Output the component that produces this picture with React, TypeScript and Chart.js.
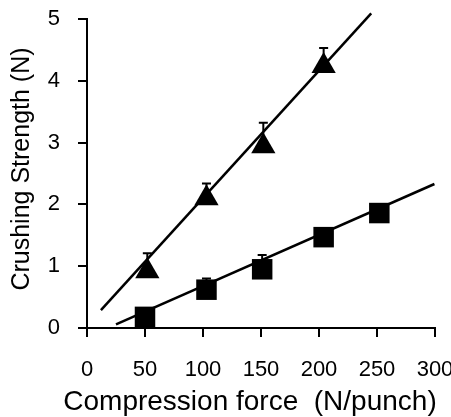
import React, { useEffect, useRef } from "react";
import { Chart, registerables } from "chart.js";

Chart.register(...registerables);

// Data
const triX = [52, 103, 152, 204];
const triY = [0.92, 2.1, 2.94, 4.24];
const triErr = [0.29, 0.24, 0.38, 0.29];

const sqX = [50, 103, 151, 204, 252];
const sqY = [0.18, 0.62, 0.95, 1.47, 1.86];
const sqErr = [0.08, 0.18, 0.23, 0.08, 0.08];

const triFitX = [12, 245];
const triFitY = [0.29, 5.09];
const sqFitX = [25, 299.5];
const sqFitY = [0.06, 2.33];

const xTickValues = [0, 50, 100, 150, 200, 250, 300];
const yTickValues = [0, 1, 2, 3, 4, 5];

const xTitle = "Compression force  (N/punch)";
const yTitle = "Crushing Strength (N)";

const FONT = "'Liberation Sans', Arial, Helvetica, sans-serif";

const toPts = (xs: number[], ys: number[]) => xs.map((x, i) => ({ x, y: ys[i] }));

const errorBarPlugin = {
  id: "errorBars",
  afterDatasetsDraw(chart: any) {
    const ctx = chart.ctx;
    const xs = chart.scales.x;
    const ys = chart.scales.y;
    chart.data.datasets.forEach((ds: any) => {
      if (!ds.errorBars) return;
      ds.data.forEach((p: any, i: number) => {
        const e = ds.errorBars[i];
        const px = xs.getPixelForValue(p.x);
        const py = ys.getPixelForValue(p.y);
        const pt = ys.getPixelForValue(p.y + e);
        ctx.save();
        ctx.strokeStyle = "#000";
        ctx.lineWidth = 2;
        ctx.beginPath();
        ctx.moveTo(px, py);
        ctx.lineTo(px, pt);
        ctx.moveTo(px - 4.5, pt);
        ctx.lineTo(px + 4.5, pt);
        ctx.stroke();
        ctx.restore();
      });
    });
  },
};

// Axis titles drawn as canvas text (Chart.js would squeeze the wide x title to the axis width)
const axisTitlePlugin = {
  id: "axisTitles",
  afterDraw(chart: any) {
    const ctx = chart.ctx;
    const ca = chart.chartArea;
    ctx.save();
    ctx.fillStyle = "#000";
    ctx.textAlign = "center";
    ctx.textBaseline = "middle";
    ctx.font = "28px " + FONT;
    ctx.fillText(xTitle, (ca.left + ca.right) / 2 - 11, chart.height - 15);
    ctx.translate(22, (ca.top + ca.bottom) / 2 - 4.5);
    ctx.rotate(-Math.PI / 2);
    ctx.font = "25px " + FONT;
    ctx.fillText(yTitle, 0, 0);
    ctx.restore();
  },
};

export default function App() {
  const ref = useRef<HTMLCanvasElement | null>(null);

  useEffect(() => {
    if (!ref.current) return;
    const chart = new Chart(ref.current, {
      type: "scatter",
      data: {
        datasets: [
          {
            label: "fitT",
            data: toPts(triFitX, triFitY),
            showLine: true,
            borderColor: "#000",
            borderWidth: 2.5,
            pointRadius: 0,
            clip: false,
          } as any,
          {
            label: "fitS",
            data: toPts(sqFitX, sqFitY),
            showLine: true,
            borderColor: "#000",
            borderWidth: 2.5,
            pointRadius: 0,
            clip: false,
          } as any,
          {
            label: "tri",
            data: toPts(triX, triY),
            pointStyle: "triangle",
            pointRadius: 14,
            backgroundColor: "#000",
            borderColor: "#000",
            borderWidth: 0,
            errorBars: triErr,
            clip: false,
          } as any,
          {
            label: "sq",
            data: toPts(sqX, sqY),
            pointStyle: "rect",
            pointRadius: 14.5,
            backgroundColor: "#000",
            borderColor: "#000",
            borderWidth: 0,
            errorBars: sqErr,
            clip: false,
          } as any,
        ],
      },
      options: {
        animation: false,
        responsive: false,
        maintainAspectRatio: false,
        layout: { padding: { top: 19, right: 16, left: 0, bottom: 0 } },
        plugins: {
          legend: { display: false },
          tooltip: { enabled: false },
        },
        scales: {
          x: {
            type: "linear",
            min: 0,
            max: 300,
            afterBuildTicks: (s: any) => {
              s.ticks = xTickValues.map((v) => ({ value: v }));
            },
            afterFit: (s: any) => {
              s.height = 89;
              s.paddingLeft = 0;
              s.paddingRight = 0;
            },
            grid: {
              display: true,
              drawOnChartArea: false,
              drawTicks: true,
              tickLength: 9,
              color: "#000",
              lineWidth: 2,
            },
            border: { display: true, color: "#000", width: 2 },
            ticks: {
              color: "#000",
              font: { family: FONT, size: 22 },
              padding: 20,
              maxRotation: 0,
              autoSkip: false,
            },
            title: { display: false },
          },
          y: {
            type: "linear",
            min: 0,
            max: 5,
            afterBuildTicks: (s: any) => {
              s.ticks = yTickValues.map((v) => ({ value: v }));
            },
            afterFit: (s: any) => {
              s.width = 87;
              s.paddingTop = 0;
              s.paddingBottom = 0;
            },
            grid: {
              display: true,
              drawOnChartArea: false,
              drawTicks: true,
              tickLength: 9,
              color: "#000",
              lineWidth: 2,
            },
            border: { display: true, color: "#000", width: 2 },
            ticks: {
              color: "#000",
              font: { family: FONT, size: 22 },
              padding: 18,
              autoSkip: false,
            },
            title: { display: false },
          },
        },
      },
      plugins: [errorBarPlugin, axisTitlePlugin],
    } as any);
    return () => chart.destroy();
  }, []);

  return (
    <div style={{ position: "fixed", left: 0, top: 0, width: 451, height: 417, background: "#fff" }}>
      <canvas ref={ref} width={451} height={417} style={{ width: 451, height: 417, display: "block" }} />
    </div>
  );
}
